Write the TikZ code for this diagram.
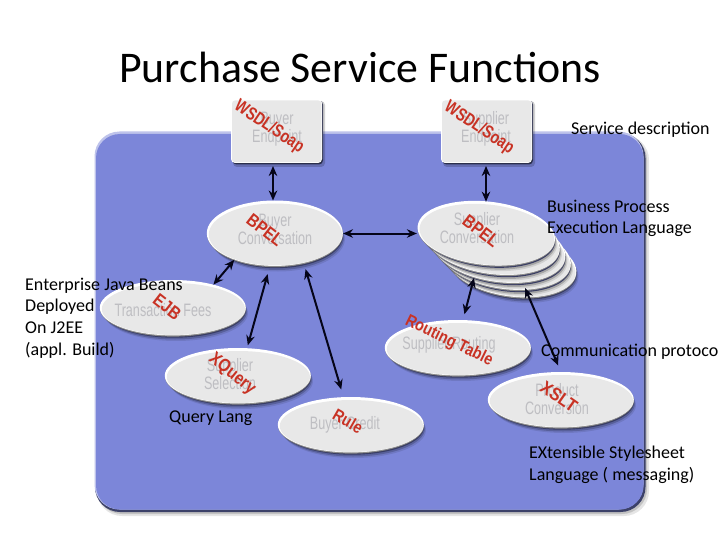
\documentclass[tikz,border=0pt]{standalone}
\usepackage{fontspec}
\setmainfont{Carlito}
\newfontfamily\wmfont{Liberation Sans}
\usetikzlibrary{arrows.meta,shapes.geometric}
\definecolor{panelblue}{RGB}{124,134,217}
\definecolor{panelhi}{RGB}{190,195,235}
\definecolor{paneldk}{RGB}{60,65,105}
\definecolor{bodygrey}{RGB}{232,232,232}
\definecolor{wmgrey}{RGB}{190,190,194}
\definecolor{redtxt}{RGB}{200,50,36}
\definecolor{inkblack}{RGB}{5,5,25}
\tikzset{
  ovalanchor/.style={shape=ellipse,inner sep=0pt,outer sep=0pt},
  boxanchor/.style={shape=rectangle,inner sep=0pt,outer sep=0pt},
  wmark/.style={text=wmgrey,align=center,inner sep=0pt,xscale=.7,transform shape,
    font=\wmfont\fontsize{18}{18}\selectfont},
  redmark/.style={text=redtxt,inner sep=0pt,transform shape,font=\wmfont\bfseries\fontsize{#1}{#1}\selectfont},
  label/.style={text=black,align=left,anchor=west,inner sep=0pt,
    font=\fontsize{18}{21.7}\selectfont},
  link/.style={draw=inkblack,line width=2pt,{Stealth[length=10pt,width=8.5pt]}-{Stealth[length=10pt,width=8.5pt]}},
}
% name, x, y, rx, ry, rotation
\newcommand{\myoval}[6]{%
  \fill[black,opacity=.10] (#2+3,#3+5) ellipse [x radius=#4pt-1pt,y radius=#5pt,rotate=#6];
  \fill[black,opacity=.20] (#2+2,#3+3.5) ellipse [x radius=#4pt-1pt,y radius=#5pt,rotate=#6];
  \fill[black!55!panelblue] (#2+1,#3+2.2) ellipse [x radius=#4pt-1pt,y radius=#5pt-.5pt,rotate=#6];
  \fill[black!40!bodygrey] (#2,#3+.6) ellipse [x radius=#4pt,y radius=#5pt,rotate=#6];
  \fill[white] (#2-.2,#3-.3) ellipse [x radius=#4pt,y radius=#5pt-.3pt,rotate=#6];
  \fill[bodygrey] (#2+.4,#3+1) ellipse [x radius=#4pt-1.4pt,y radius=#5pt-2pt,rotate=#6];
  \node[ovalanchor,minimum width=2*#4pt,minimum height=2*#5pt,rotate=#6] (#1) at (#2,#3) {};
}
\newcommand{\mybox}[5]{%
  \fill[black,opacity=.18,rounded corners=4pt] (#2+2,#3+2) rectangle (#4+3,#5+4);
  \fill[black!65!panelblue,rounded corners=4pt] (#2+1.5,#3+1.5) rectangle (#4+1,#5+1.5);
  \fill[white,rounded corners=4pt] (#2,#3) rectangle (#4,#5);
  \fill[bodygrey,rounded corners=3pt] (#2+1,#3+1.5) rectangle (#4-.6,#5-.8);
  \coordinate (#1-c) at ({(#2+#4)/2},{(#3+#5)/2});
  \node[boxanchor,minimum width=#4pt-#2pt,minimum height=#5pt-#3pt] (#1) at (#1-c) {};
}
\begin{document}
\begin{tikzpicture}[x=1pt,y=-1pt]
\useasboundingbox (0,0) rectangle (720,540);
\fill[white] (0,0) rectangle (720,540);
% panel
\fill[black,opacity=.10,rounded corners=25pt] (97,135) rectangle (649,516);
\fill[black,opacity=.15,rounded corners=25pt] (97,135) rectangle (647,514);
\fill[paneldk,rounded corners=25pt] (95,133) rectangle (645.5,512);
\fill[panelhi,rounded corners=25pt] (94.5,131.5) rectangle (643.5,509.5);
\fill[panelblue,rounded corners=24pt] (96,134) rectangle (643.5,509.5);
% endpoint boxes
\mybox{bep}{231}{99}{322}{163}
\mybox{sep}{441}{99}{532}{163}
% ovals
\myoval{st4}{512}{265}{65}{32}{-8}
\myoval{st3}{505.5}{257}{66}{32.5}{-8}
\myoval{st2}{499}{249.5}{67}{33}{-8}
\myoval{st1}{492.5}{241.5}{68}{33}{-8}
\myoval{sc}{486.5}{233.5}{69}{32}{-6}
\myoval{bc}{275}{233.5}{68}{33}{0}
\myoval{ejb}{173}{308}{73}{28}{0}
\myoval{xq}{238}{376}{73}{28}{0}
\myoval{rule}{351}{425}{73}{28}{0}
\myoval{rt}{458}{348}{73}{28}{0}
\myoval{xs}{561}{400}{73}{28}{0}
% watermark text
\node[wmark] (t1) at (277,129) {Buyer\\Endpoint};
\node[wmark] (t2) at (486,129) {Supplier\\Endpoint};
\node[wmark] (t3) at (275,229) {Buyer\\Conversation};
\node[wmark] (t4) at (477,228) {Supplier\\Conversation};
\node[wmark] (t5) at (163,310) {Transaction Fees};
\node[wmark] (t6) at (230,374) {Supplier\\Selection};
\node[wmark] (t7) at (345,425) {Buyer Credit};
\node[wmark] (t8) at (449,345) {Supplier Routing};
\node[wmark] (t9) at (557,399) {Product\\Conversion};
% red text
\node[redmark=18,rotate=-34,xscale=.78] (r1) at (269,127) {WSDL/Soap};
\node[redmark=18,rotate=-34,xscale=.78] (r2) at (479,128) {WSDL/Soap};
\node[redmark=18,rotate=-38,xscale=.85] (r3) at (265,230) {BPEL};
\node[redmark=18,rotate=-38,xscale=.85] (r4) at (481,231) {BPEL};
\node[redmark=18,rotate=-38,xscale=.85] (r5) at (167,307) {EJB};
\node[redmark=18,rotate=-39,xscale=.85] (r6) at (232,374) {XQuery};
\node[redmark=17,rotate=-30,xscale=.85] (r7) at (348,421) {Rule};
\node[redmark=17,rotate=-26,xscale=.85] (r8) at (449,341) {Routing Table};
\node[redmark=18,rotate=-35,xscale=.9] (r9) at (559,397) {XSLT};
% connectors
\coordinate (stA) at (474,278);
\coordinate (stB) at (525,288);
\coordinate (bepS) at (273,166);
\coordinate (sepS) at (486,166);
\draw[link] (bepS) -- (bc.north -| bepS);
\draw[link] (sepS) -- (sc.north -| sepS);
\draw[link,shorten >=1pt] (bc.east) -- (bc.east -| sc.west);
\draw[link] (bc.213) -- (ejb.30);
\draw[link,shorten <=8pt,shorten >=3pt] (bc.261) -- (xq.72);
\draw[link,shorten <=6pt,shorten >=8pt] (bc.-46) -- (rule.105);
\draw[link,shorten >=6pt] (stA) -- (rt.80);
\draw[link,shorten >=7pt] (stB) -- (xs.90);
% labels
\node[inner sep=0pt,anchor=west,text=black,font=\fontsize{43.8}{50}\selectfont] (title) at (119,67) {Purchase Service Functions};
\node[label] (l1) at (571,129.5) {Service description};
\node[label] (l2) at (547,218.5) {Business Process\\Execution Language};
\node[label] (l3) at (25,318) {Enterprise Java Beans\\Deployed\\On J2EE\\(appl. Build)};
\node[label] (l4) at (169,418.5) {Query Lang};
\node[label] (l5) at (541,351.5) {Communication protoco};
\node[label] (l6) at (529,464.5) {EXtensible Stylesheet\\Language ( messaging)};
\end{tikzpicture}
\end{document}
